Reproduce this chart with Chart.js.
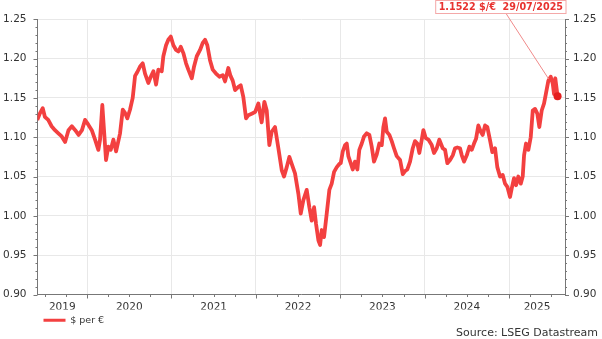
<!DOCTYPE html>
<html>
<head>
<meta charset="utf-8">
<script src="https://cdn.jsdelivr.net/npm/chart.js@4.4.1/dist/chart.umd.min.js"></script>
<style>
  html, body { margin: 0; padding: 0; background: #fff; }
  #wrap { width: 602px; height: 339px; }
</style>
</head>
<body>
<div id="wrap"><canvas id="fxChart" width="602" height="339"></canvas></div>
<script>
// --- data ---
const seriesName = '$ per €';
const sourceText = 'Source: LSEG Datastream';
const lastLabel = '1.1522 $/€  29/07/2025';
const years = [2019, 2020, 2021, 2022, 2023, 2024, 2025];
const yTicks = [0.90, 0.95, 1.00, 1.05, 1.10, 1.15, 1.20, 1.25];

// dates as decimal years
const dates = [
  2019.41, 2019.44, 2019.475, 2019.50, 2019.54, 2019.58, 2019.62, 2019.66, 2019.70, 2019.74,
  2019.78, 2019.82, 2019.86, 2019.90, 2019.94, 2019.976, 2020.015, 2020.056, 2020.095, 2020.134,
  2020.154, 2020.181, 2020.201, 2020.225, 2020.252, 2020.281, 2020.312, 2020.344, 2020.371, 2020.391,
  2020.423, 2020.450, 2020.477, 2020.509, 2020.541, 2020.569, 2020.596, 2020.628, 2020.660, 2020.687,
  2020.726, 2020.755, 2020.786, 2020.818, 2020.845, 2020.885, 2020.904, 2020.936, 2020.963, 2020.992,
  2021.023, 2021.055, 2021.082, 2021.110, 2021.141, 2021.173, 2021.200, 2021.241, 2021.268, 2021.300,
  2021.339, 2021.371, 2021.398, 2021.425, 2021.457, 2021.489, 2021.528, 2021.568, 2021.608, 2021.635,
  2021.674, 2021.700, 2021.726, 2021.754, 2021.793, 2021.821, 2021.852, 2021.884, 2021.911, 2021.951,
  2021.991, 2022.030, 2022.069, 2022.101, 2022.129, 2022.160, 2022.188, 2022.227, 2022.267, 2022.307,
  2022.334, 2022.366, 2022.397, 2022.425, 2022.464, 2022.504, 2022.532, 2022.563, 2022.603, 2022.634,
  2022.662, 2022.690, 2022.713, 2022.741, 2022.761, 2022.781, 2022.808, 2022.840, 2022.871, 2022.899,
  2022.927, 2022.959, 2022.989, 2023.006, 2023.030, 2023.057, 2023.077, 2023.096, 2023.124, 2023.148,
  2023.175, 2023.203, 2023.226, 2023.255, 2023.282, 2023.314, 2023.345, 2023.373, 2023.400, 2023.432,
  2023.463, 2023.492, 2023.511, 2023.531, 2023.551, 2023.582, 2023.610, 2023.637, 2023.669, 2023.709,
  2023.741, 2023.768, 2023.795, 2023.827, 2023.859, 2023.886, 2023.914, 2023.937, 2023.966, 2023.985,
  2024.013, 2024.044, 2024.084, 2024.111, 2024.143, 2024.174, 2024.214, 2024.242, 2024.269, 2024.301,
  2024.333, 2024.360, 2024.387, 2024.419, 2024.440, 2024.467, 2024.499, 2024.530, 2024.558, 2024.585,
  2024.609, 2024.636, 2024.665, 2024.688, 2024.716, 2024.743, 2024.775, 2024.802, 2024.834, 2024.861,
  2024.893, 2024.925, 2024.953, 2024.980, 2025.012, 2025.032, 2025.059, 2025.083, 2025.110, 2025.139,
  2025.162, 2025.178, 2025.201, 2025.229, 2025.257, 2025.281, 2025.308, 2025.335, 2025.359, 2025.387,
  2025.415, 2025.438, 2025.466, 2025.494, 2025.518, 2025.533, 2025.548, 2025.575
];

// $ per € rate
const rates = [
  1.122, 1.130, 1.137, 1.126, 1.122, 1.114, 1.109, 1.105, 1.101, 1.094,
  1.109, 1.114, 1.109, 1.103, 1.109, 1.122, 1.116, 1.109, 1.097, 1.084,
  1.097, 1.141, 1.109, 1.071, 1.088, 1.084, 1.097, 1.082, 1.095, 1.105,
  1.135, 1.131, 1.124, 1.135, 1.150, 1.178, 1.183, 1.190, 1.194, 1.181,
  1.169, 1.177, 1.184, 1.167, 1.186, 1.184, 1.203, 1.217, 1.224, 1.228,
  1.217, 1.211, 1.209, 1.215, 1.207, 1.194, 1.186, 1.175, 1.190, 1.203,
  1.211, 1.220, 1.224, 1.217, 1.198, 1.186, 1.181, 1.177, 1.179, 1.171,
  1.188, 1.178, 1.172, 1.160, 1.164, 1.166, 1.151, 1.124, 1.128, 1.130,
  1.132, 1.143, 1.119, 1.145, 1.134, 1.090, 1.107, 1.113, 1.086, 1.058,
  1.050, 1.062, 1.075, 1.066, 1.054, 1.028, 1.003, 1.020, 1.033, 1.011,
  0.994, 1.011, 0.990, 0.969, 0.963, 0.982, 0.973, 1.003, 1.033, 1.041,
  1.056, 1.062, 1.066, 1.067, 1.082, 1.090, 1.092, 1.076, 1.067, 1.059,
  1.069, 1.059, 1.084, 1.092, 1.101, 1.105, 1.103, 1.088, 1.069, 1.078,
  1.092, 1.090, 1.113, 1.124, 1.107, 1.103, 1.095, 1.086, 1.076, 1.071,
  1.053, 1.057, 1.059, 1.069, 1.086, 1.095, 1.092, 1.080, 1.097, 1.109,
  1.099, 1.097, 1.090, 1.080, 1.086, 1.097, 1.086, 1.084, 1.067, 1.071,
  1.077, 1.086, 1.087, 1.086, 1.077, 1.069, 1.077, 1.088, 1.084, 1.092,
  1.098, 1.115, 1.107, 1.103, 1.115, 1.113, 1.096, 1.081, 1.086, 1.062,
  1.050, 1.052, 1.041, 1.037, 1.024, 1.035, 1.048, 1.039, 1.050, 1.041,
  1.050, 1.077, 1.092, 1.084, 1.100, 1.134, 1.136, 1.130, 1.113, 1.134,
  1.143, 1.156, 1.172, 1.177, 1.168, 1.155, 1.175, 1.1522
];

// where the callout line points (date, rate)
const calloutAt = [2025.47, 1.174];

// --- layout ---
const X_MIN = 2019.413;
const X_MAX = 2025.663;
const RED = '#f34040';
const TEXT = '#333';
const GRID = '#e8e8e8';
const AXIS = '#777';

Chart.defaults.font.family = '"DejaVu Sans", sans-serif';
Chart.defaults.color = TEXT;

// year label sits in the middle of the visible part of each year
const labelPos = years.map(y => (Math.max(y, X_MIN) + Math.min(y + 1, X_MAX)) / 2);
const yearLines = years.filter(y => y > X_MIN && y < X_MAX);

const tickMarks = {
  id: 'tickMarks',
  afterDraw(chart) {
    const { ctx, chartArea: a, scales: { x, y } } = chart;
    ctx.save();
    ctx.strokeStyle = AXIS;
    ctx.lineWidth = 1;
    ctx.beginPath();
    for (let k = 90; k <= 125; k++) {
      const py = Math.round(y.getPixelForValue(k / 100)) + 0.5;
      const len = k % 5 === 0 ? 4 : 2;
      ctx.moveTo(a.left - len, py); ctx.lineTo(a.left, py);
      ctx.moveTo(a.right, py); ctx.lineTo(a.right + len, py);
    }
    for (let q = Math.ceil(X_MIN * 4); q <= Math.floor(X_MAX * 4); q++) {
      const px = Math.round(x.getPixelForValue(q / 4)) + 0.5;
      const len = q % 4 === 0 ? 4 : 2.5;
      ctx.moveTo(px, a.bottom); ctx.lineTo(px, a.bottom + len);
    }
    ctx.stroke();

    // source line
    ctx.fillStyle = TEXT;
    ctx.font = '11px "DejaVu Sans"';
    ctx.textAlign = 'right';
    ctx.textBaseline = 'middle';
    ctx.fillText(sourceText, 598, 333);
    ctx.restore();
  }
};

const lastValueBox = {
  id: 'lastValueBox',
  afterDatasetsDraw(chart) {
    const { ctx, scales: { x, y } } = chart;
    const px = x.getPixelForValue(calloutAt[0]);
    const py = y.getPixelForValue(calloutAt[1]);
    ctx.save();
    ctx.font = 'bold 9.6px "DejaVu Sans"';
    const w = ctx.measureText(lastLabel).width;
    const right = 566, left = right - w - 6, top = 0.5, bottom = 13.5;

    ctx.strokeStyle = '#f08a8a';
    ctx.lineWidth = 1;
    ctx.beginPath();
    ctx.moveTo(left + (right - left) * 0.54, bottom);
    ctx.lineTo(px, py);
    ctx.stroke();

    ctx.fillStyle = '#fff';
    ctx.fillRect(left, top, right - left, bottom - top);
    ctx.strokeStyle = '#f4a8a8';
    ctx.strokeRect(left, top, right - left, bottom - top);

    ctx.fillStyle = '#e8322f';
    ctx.textAlign = 'center';
    ctx.textBaseline = 'middle';
    ctx.fillText(lastLabel, (left + right) / 2, 7.5);
    ctx.restore();
  }
};

const yAxis = (position, width, pad) => ({
  position: position,
  min: 0.9,
  max: 1.25,
  afterBuildTicks: s => { s.ticks = yTicks.map(v => ({ value: v })); },
  afterFit: s => { s.width = width; },
  ticks: { callback: v => v.toFixed(2), padding: pad, font: { size: 10.5 }, color: TEXT },
  grid: { display: position === 'left', color: GRID, drawTicks: false },
  border: { color: AXIS }
});

new Chart(document.getElementById('fxChart'), {
  type: 'line',
  data: {
    datasets: [{
      label: seriesName,
      data: dates.map((d, i) => ({ x: d, y: rates[i] })),
      borderColor: RED,
      backgroundColor: RED,
      borderWidth: 3.8,
      borderJoinStyle: 'round',
      tension: 0,
      fill: false,
      pointRadius: ctx => ctx.dataIndex === rates.length - 1 ? 4 : 0,
      pointBackgroundColor: '#e41f1f',
      pointBorderWidth: 0,
      pointHoverRadius: 0
    }]
  },
  options: {
    responsive: false,
    devicePixelRatio: 1,
    animation: false,
    layout: { padding: { top: 19.3, bottom: 4, left: 0, right: 0 } },
    scales: {
      x: {
        type: 'linear',
        min: X_MIN,
        max: X_MAX,
        afterBuildTicks: s => {
          s.ticks = [...yearLines, ...labelPos].sort((a, b) => a - b).map(v => ({ value: v }));
        },
        afterFit: s => { s.height = 15; },
        ticks: {
          autoSkip: false,
          maxRotation: 0,
          padding: 6,
          font: { size: 10.5 },
          color: TEXT,
          callback: v => {
            const i = labelPos.indexOf(v);
            return i >= 0 ? String(years[i]) : '';
          }
        },
        grid: {
          drawTicks: false,
          color: ctx => (ctx.tick && yearLines.includes(ctx.tick.value)) ? GRID : 'rgba(0,0,0,0)'
        },
        border: { color: AXIS }
      },
      y: yAxis('left', 37.5, 11),
      y2: yAxis('right', 37, 8)
    },
    plugins: {
      legend: {
        position: 'bottom',
        align: 'start',
        fullSize: false,
        labels: {
          boxWidth: 22,
          boxHeight: 3,
          padding: 6,
          font: { size: 9.5 },
          color: TEXT,
          generateLabels: chart => Chart.defaults.plugins.legend.labels.generateLabels(chart)
            .map(l => ({ ...l, lineWidth: 0 }))
        }
      },
      tooltip: { enabled: false }
    }
  },
  plugins: [tickMarks, lastValueBox]
});
</script>
</body>
</html>
